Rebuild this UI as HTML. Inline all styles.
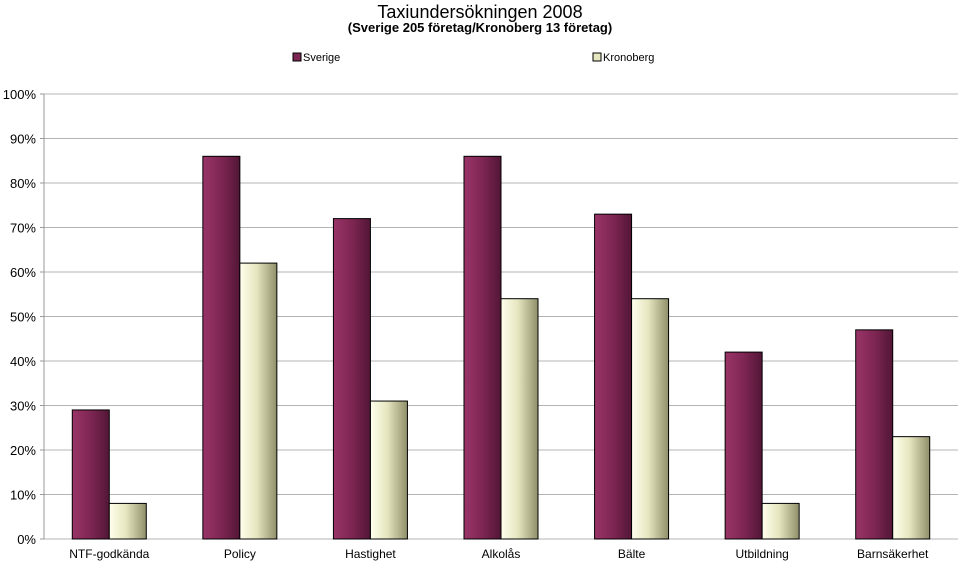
<!DOCTYPE html>
<html><head><meta charset="utf-8"><style>
body{margin:0;background:#fff;}
svg{display:block;font-family:"Liberation Sans",sans-serif;}
</style></head><body>
<svg id="chart" width="960" height="562">
<defs>
<linearGradient id="gS" x1="0" x2="1"><stop offset="0" stop-color="#9a3468"/><stop offset="0.5" stop-color="#7e2653"/><stop offset="1" stop-color="#521636"/></linearGradient>
<linearGradient id="gK" x1="0" x2="1"><stop offset="0" stop-color="#ffffee"/><stop offset="0.45" stop-color="#e6e6c0"/><stop offset="1" stop-color="#8f8f6a"/></linearGradient>
</defs>
<text x="480" y="18" text-anchor="middle" font-size="18">Taxiundersökningen 2008</text>
<text x="480" y="32" text-anchor="middle" font-size="13" font-weight="bold">(Sverige 205 företag/Kronoberg 13 företag)</text>
<g>
<g><rect x="293" y="53" width="8" height="8" fill="#7e2653" stroke="#000" stroke-width="1"/><text x="303" y="61" font-size="11">Sverige</text></g>
<g><rect x="593" y="53" width="8" height="8" fill="#e6e6c0" stroke="#000" stroke-width="1"/><text x="603" y="61" font-size="11">Kronoberg</text></g>
</g>
<g id="grid"></g><g id="bars"></g><g id="labels"></g>
</svg>
<script>
const categories=["NTF-godkända","Policy","Hastighet","Alkolås","Bälte","Utbildning","Barnsäkerhet"];
const sverige=[29,86,72,86,73,42,47];
const kronoberg=[8,62,31,54,54,8,23];
const yTicks=[0,10,20,30,40,50,60,70,80,90,100];
const ns="http://www.w3.org/2000/svg";
const L=44,R=958,T=94,B=539;
const y=v=>B-(v/100)*(B-T);
const band=(R-L)/categories.length;
const grid=document.getElementById('grid'),bars=document.getElementById('bars'),labels=document.getElementById('labels');
function mk(tag,attrs,parent){const e=document.createElementNS(ns,tag);for(const k in attrs)e.setAttribute(k,attrs[k]);parent.appendChild(e);return e;}
yTicks.forEach(t=>{
  const g=mk('line',{x1:L,x2:R,y1:y(t),y2:y(t),stroke:'#b4b4b4','stroke-width':1},grid);
  
  
  const tk=mk('line',{x1:L-4,x2:L,y1:y(t),y2:y(t),stroke:'#999'},grid);
  
  
  const tx=mk('text',{x:L-8,y:y(t)+5,'text-anchor':'end','font-size':13},labels);
  tx.textContent=t+'%';
  
  
});
const ax=mk('line',{x1:L,x2:L,y1:T,y2:B,stroke:'#999'},grid);


const bw=37;
categories.forEach((c,i)=>{
  const cx=L+band*(i+0.5);
  const a=mk('rect',{x:cx-bw,y:y(sverige[i]),width:bw,height:B-y(sverige[i]),fill:'url(#gS)',stroke:'#000','stroke-width':1},bars);
  
  
  const b=mk('rect',{x:cx,y:y(kronoberg[i]),width:bw,height:B-y(kronoberg[i]),fill:'url(#gK)',stroke:'#000','stroke-width':1},bars);
  
  
  const tx=mk('text',{x:cx,y:558,'text-anchor':'middle','font-size':12},labels);
  tx.textContent=c;
  
  
});
</script>
</body></html>
